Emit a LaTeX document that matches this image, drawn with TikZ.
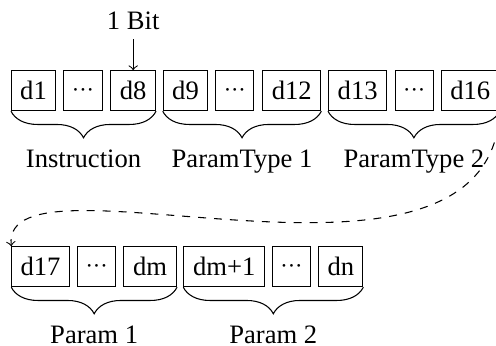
\documentclass[tikz,border=0pt]{standalone}
\usepackage{fontspec}
\setmainfont{Liberation Serif}
\usetikzlibrary{decorations.pathreplacing}
\newcommand{\dotsrow}{${\cdot}{\cdot}{\cdot}$}
\begin{document}
\begin{tikzpicture}[x=0.376pt,y=-0.376pt,
  cell/.style={draw, anchor=west, minimum height=15pt, inner xsep=0pt, minimum width=#1*0.376pt},
  grp/.style={decorate, decoration={brace, mirror, amplitude=10pt}},
  lbl/.style={midway, below=11pt}]
\useasboundingbox (0,0) rectangle (496,346);
% row 1
\node[cell=44]   (d1)  at (11,90.7)    {d1};
\node[cell=38.4] (e1)  at (63.3,90.7)  {\dotsrow};
\node[cell=44.7] (d8)  at (110.3,90.7) {d8};
\node[cell=44.6] (d9)  at (162.7,90.7) {d9};
\node[cell=38]   (e2)  at (215.3,90.7) {\dotsrow};
\node[cell=58]   (d12) at (262.3,90.7) {d12};
\node[cell=58.3] (d13) at (328,90.7)   {d13};
\node[cell=38]   (e3)  at (394.7,90.7) {\dotsrow};
\node[cell=58]   (d16) at (440.7,90.7) {d16};
% row 2
\node[cell=57.4] (d17) at (11.3,266.7)  {d17};
\node[cell=37.7] (e4)  at (77.3,266.7)  {\dotsrow};
\node[cell=52.7] (dm)  at (123.3,266.7) {dm};
\node[cell=80.7] (dm1) at (183.3,266.7) {dm+1};
\node[cell=38]   (e5)  at (272,266.7)   {\dotsrow};
\node[cell=44]   (dn)  at (318.3,266.7) {dn};
% 1 Bit marker
\path (d8.north) ++(0,-40.7) node[anchor=base] (bit) {1 Bit};
\draw[->] (bit) -- (d8);
% braces
\draw[grp] (d1.south west) -- (d8.south east) node[lbl] (l1) {Instruction};
\draw[grp] (d9.south west) -- (d12.south east) node[lbl] (l2) {ParamType 1};
\draw[grp] (d13.south west) -- (d16.south east) node[lbl] (l3) {ParamType 2};
\draw[grp] (d17.south west) -- (dm.south east) node[lbl] (l4) {Param 1};
\draw[grp] (dm1.south west) -- (dn.south east) node[lbl] (l5) {Param 2};
% continuation
\draw[->, dashed] (d16.south east) .. controls (490,330) and (0,140) .. (d17.north west);
\end{tikzpicture}
\end{document}
